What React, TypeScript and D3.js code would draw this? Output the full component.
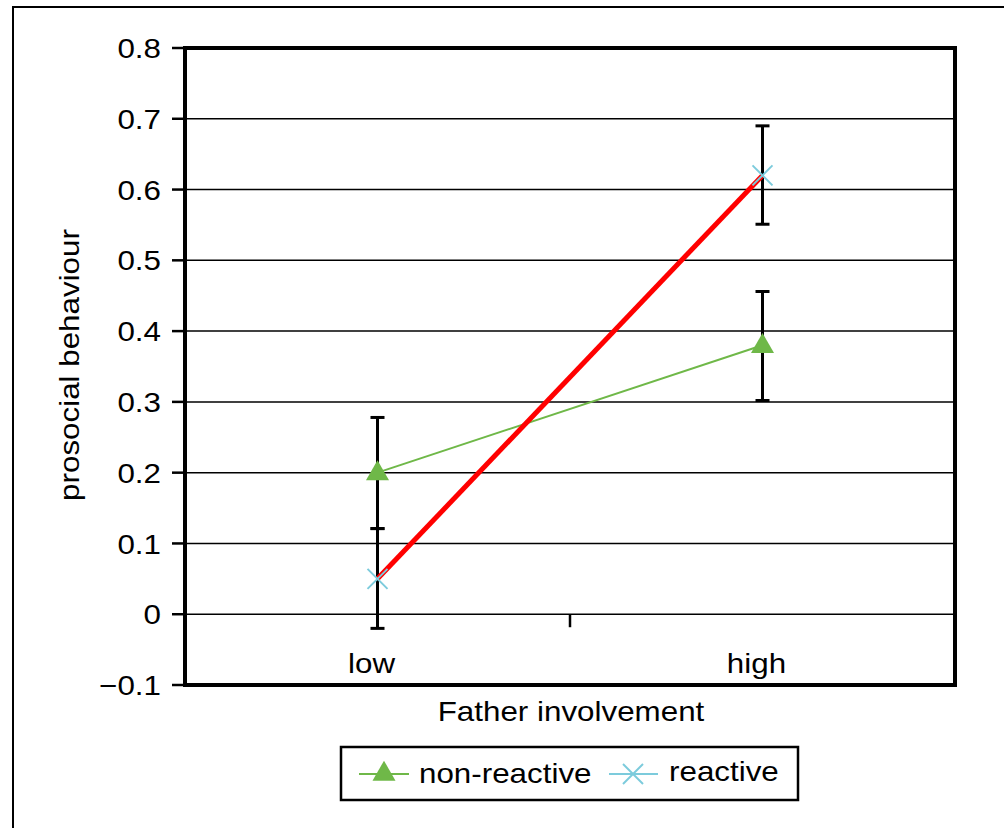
import React from "react";
import * as d3 from "d3";

const categories = ["low", "high"];
const nonReactive = [0.2, 0.38];
const nonReactiveLow = [0.121, 0.302];
const nonReactiveHigh = [0.278, 0.456];
const reactive = [0.05, 0.62];
const reactiveLow = [-0.02, 0.551];
const reactiveHigh = [0.121, 0.69];
const yTicks = [-0.1, 0, 0.1, 0.2, 0.3, 0.4, 0.5, 0.6, 0.7, 0.8];

const FONT = "'Liberation Sans', Arial, sans-serif";
const GREEN = "#6fb848";
const BLUE = "#7ccbdc";
const FS = 28;
const STRETCH = 1.12;

// text drawn slightly wider than the font, as in the scanned figure
const Txt = (p: { x: number; y: number; anchor?: string; rotate?: number; dy?: string; children: any }) => (
  <text
    transform={`translate(${p.x},${p.y}) rotate(${p.rotate || 0}) scale(${STRETCH},1)`}
    textAnchor={p.anchor || "start"}
    dy={p.dy}
    fontSize={FS}
    fill="#000"
  >
    {p.children}
  </text>
);

const App = () => {
  const left = 185;
  const right = 955;
  const top = 48;
  const bottom = 685;

  const x = d3.scaleBand().domain(categories).range([left, right]);
  const y = d3.scaleLinear().domain([-0.1, 0.8]).range([bottom, top]);
  const cx = (c: string) => (x(c) as number) + x.bandwidth() / 2;

  const line = d3
    .line<number>()
    .x((d, i) => cx(categories[i]))
    .y(d => y(d));

  const tri = d3.symbol().type(d3.symbolTriangle).size(230)();
  const fmt = (v: number) => (v < 0 ? "\u2212" + Math.abs(v).toFixed(1) : v === 0 ? "0" : v.toFixed(1));

  const errBar = (c: string, lo: number, hi: number, key: string) => (
    <g key={key} stroke="#000" strokeWidth={3}>
      <line x1={cx(c)} x2={cx(c)} y1={y(lo)} y2={y(hi)} />
      <line x1={cx(c) - 7} x2={cx(c) + 7} y1={y(lo)} y2={y(lo)} />
      <line x1={cx(c) - 7} x2={cx(c) + 7} y1={y(hi)} y2={y(hi)} />
    </g>
  );

  const cross = (px: number, py: number, key: string) => (
    <g key={key} stroke={BLUE} strokeWidth={2}>
      <line x1={px - 10} x2={px + 10} y1={py - 10} y2={py + 10} />
      <line x1={px - 10} x2={px + 10} y1={py + 10} y2={py - 10} />
    </g>
  );

  return (
    <svg width={1004} height={828} style={{ position: "absolute", left: 0, top: 0 }} fontFamily={FONT}>
      <rect width={1004} height={828} fill="#fff" />
      {/* outer frame */}
      <path d="M13,828 V7 H1004" fill="none" stroke="#000" strokeWidth={2} />

      {/* gridlines */}
      {yTicks.map(t => (
        <line key={"g" + t} x1={left} x2={right} y1={y(t)} y2={y(t)} stroke="#000" strokeWidth={1.5} />
      ))}

      {/* y ticks and labels */}
      {yTicks.map(t => (
        <g key={"t" + t}>
          <line x1={172} x2={left} y1={y(t)} y2={y(t)} stroke="#000" strokeWidth={2.5} />
          <Txt x={161} y={y(t)} dy="0.36em" anchor="end">
            {fmt(t)}
          </Txt>
        </g>
      ))}

      {/* x tick at band boundary */}
      <line x1={(x("high") as number)} x2={(x("high") as number)} y1={y(0)} y2={y(0) + 13} stroke="#000" strokeWidth={2.5} />

      {/* category labels */}
      {categories.map(c => (
        <Txt key={c} x={cx(c) - 6} y={673} anchor="middle">
          {c}
        </Txt>
      ))}

      {/* plot frame */}
      <rect x={left} y={top} width={right - left} height={bottom - top} fill="none" stroke="#000" strokeWidth={4} />

      {/* error bars */}
      {categories.map((c, i) => errBar(c, nonReactiveLow[i], nonReactiveHigh[i], "en" + i))}
      {categories.map((c, i) => errBar(c, reactiveLow[i], reactiveHigh[i], "er" + i))}

      {/* series lines */}
      <path d={line(nonReactive) as string} fill="none" stroke={GREEN} strokeWidth={2} />
      <path d={line(reactive) as string} fill="none" stroke="#ff0000" strokeWidth={5} />

      {/* markers */}
      {nonReactive.map((v, i) => (
        <path key={"m" + i} d={tri as string} transform={`translate(${cx(categories[i])},${y(v) + 1})`} fill={GREEN} />
      ))}
      {reactive.map((v, i) => cross(cx(categories[i]), y(v), "c" + i))}

      {/* axis titles */}
      <Txt x={79} y={365} rotate={-90} anchor="middle">
        prosocial behaviour
      </Txt>
      <Txt x={571} y={721} anchor="middle">
        Father involvement
      </Txt>

      {/* legend */}
      <rect x={341} y={747} width={457} height={53} fill="#fff" stroke="#000" strokeWidth={2.5} />
      <line x1={359} x2={409} y1={774} y2={774} stroke={GREEN} strokeWidth={2} />
      <path d={tri as string} transform="translate(384,774)" fill={GREEN} />
      <Txt x={419} y={783}>non-reactive</Txt>
      <line x1={609} x2={658} y1={774} y2={774} stroke={BLUE} strokeWidth={2} />
      {cross(633, 774, "lc")}
      <Txt x={669} y={781}>reactive</Txt>
    </svg>
  );
};

export default App;
